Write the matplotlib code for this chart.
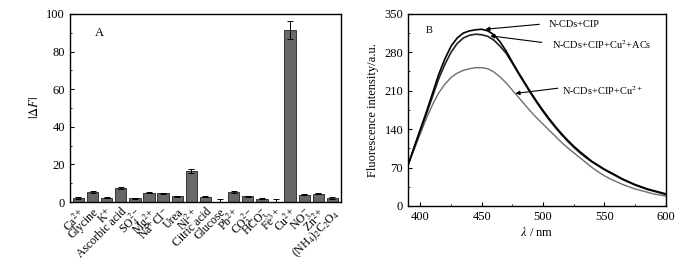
import numpy as np
import matplotlib
matplotlib.use("Agg")
import matplotlib.pyplot as plt
from matplotlib.ticker import MultipleLocator

plt.rcParams["font.family"] = ["Liberation Serif", "DejaVu Serif"]
plt.rcParams["mathtext.fontset"] = "stix"

# ---- panel A data
ions = ["Ca$^{2+}$", "Glycine", "K$^{+}$", "Ascorbic acid", "SO$_4^{2-}$",
        "Mg$^{2+}$", "Na$^{+}$Cl$^{-}$", "Urea", "Ni$^{2+}$", "Citric acid",
        "Glucose", "Pb$^{2+}$", "CO$_3^{2-}$", "HCO$_3^{-}$", "Fe$^{3+}$",
        "Cu$^{2+}$", "NO$_3^{-}$", "Zn$^{2+}$", "(NH$_4$)$_2$C$_2$O$_4$"]
delta_f = [2.1, 5.2, 2.3, 7.4, 2.0, 5.0, 4.6, 3.0, 16.4, 2.7,
           0.0, 5.2, 3.0, 1.8, 0.0, 91.5, 3.9, 4.4, 2.1]
delta_err = [0.3, 0.4, 0.3, 0.4, 0.3, 0.4, 0.3, 0.3, 0.9, 0.3,
             1.8, 0.4, 0.3, 0.3, 1.8, 4.6, 0.3, 0.3, 0.3]

# ---- panel B data (read every 5 nm)
wl = [390, 395, 400, 405, 410, 415, 420, 425, 430, 435, 440, 445, 450, 455,
      460, 465, 470, 475, 480, 485, 490, 495, 500, 505, 510, 515, 520, 525,
      530, 535, 540, 545, 550, 555, 560, 565, 570, 575, 580, 585, 590, 595, 600]
cds_cip = [75, 108, 140, 172, 206, 240, 268, 291, 306, 315, 319, 321, 322, 319,
           312, 299, 282, 262, 243, 225, 207, 190, 174, 159, 145, 132, 120, 109,
           99, 90, 81, 74, 67, 61, 55, 49, 44, 39, 35, 31, 28, 25, 22]
cds_cip_cu_acs = [75, 106, 137, 168, 200, 232, 258, 280, 296, 306, 311, 313, 312, 309,
                  302, 291, 278, 260, 241, 223, 205, 188, 172, 157, 143, 130, 118, 107,
                  97, 88, 80, 73, 66, 60, 54, 48, 43, 38, 34, 30, 27, 24, 21]
cds_cip_cu = [75, 103, 132, 160, 185, 206, 222, 234, 242, 247, 250, 252, 252, 250,
              244, 235, 224, 211, 198, 185, 172, 160, 149, 138, 127, 116, 106, 97,
              88, 79, 70, 62, 55, 49, 44, 39, 35, 31, 28, 25, 22, 20, 18]

fig = plt.figure(figsize=(7.0, 2.62), dpi=100)

# %% panel A
ax1 = fig.add_axes([0.100, 0.229, 0.387, 0.718])
x = np.arange(len(ions))
ax1.bar(x, delta_f, width=0.8, color="#686868", edgecolor="#222222", linewidth=0.6)
ax1.errorbar(x, delta_f, yerr=delta_err, fmt="none", ecolor="black",
             elinewidth=0.7, capsize=2, capthick=0.7)
ax1.set_xlim(-0.6, len(ions) - 0.4)
ax1.set_ylim(0, 100)
ax1.yaxis.set_major_locator(MultipleLocator(20))
ax1.yaxis.set_minor_locator(MultipleLocator(10))
ax1.set_xticks(x)
ax1.set_xticklabels(ions, rotation=45, ha="right", rotation_mode="anchor", fontsize=8.5)
ax1.tick_params(axis="x", length=0, pad=3)
ax1.tick_params(axis="y", which="both", direction="in", labelsize=9)
ax1.tick_params(axis="y", which="major", length=3)
ax1.tick_params(axis="y", which="minor", length=1.5)
ax1.set_ylabel(r"$|\Delta F|$", fontsize=9, labelpad=4)
ax1.text(0.09, 0.88, "A", transform=ax1.transAxes, fontsize=9)
for s in ax1.spines.values():
    s.set_linewidth(1.0)

# %% panel B
ax2 = fig.add_axes([0.583, 0.214, 0.368, 0.733])
ax2.plot(wl, cds_cip_cu, color="#6e6e6e", lw=1.0)
ax2.plot(wl, cds_cip_cu_acs, color="#222222", lw=1.2)
ax2.plot(wl, cds_cip, color="black", lw=1.2)
ax2.set_xlim(390, 600)
ax2.set_ylim(0, 350)
ax2.xaxis.set_major_locator(MultipleLocator(50))
ax2.xaxis.set_minor_locator(MultipleLocator(25))
ax2.yaxis.set_major_locator(MultipleLocator(70))
ax2.yaxis.set_minor_locator(MultipleLocator(35))
ax2.tick_params(which="both", direction="in", labelsize=9)
ax2.tick_params(which="major", length=3)
ax2.tick_params(which="minor", length=1.5)
ax2.set_xlabel(r"$\lambda$ / nm", fontsize=9, labelpad=2)
ax2.set_ylabel("Fluorescence intensity/a.u.", fontsize=9, labelpad=4)
ax2.text(404, 316, "B", fontsize=7.5)
for s in ax2.spines.values():
    s.set_linewidth(1.0)

arrow = dict(arrowstyle="-|>", color="black", lw=0.8, mutation_scale=6,
             shrinkA=0, shrinkB=0)
ax2.annotate("", xy=(453, 322), xytext=(497, 331), arrowprops=arrow)
ax2.text(505, 331, "N-CDs+CIP", fontsize=7.5, va="center")
ax2.annotate("", xy=(457, 310), xytext=(499, 298), arrowprops=arrow)
ax2.text(507.5, 295, "N-CDs+CIP+Cu$^{2}$+ACs", fontsize=7.5, va="center")
ax2.annotate("", xy=(477.5, 205), xytext=(512, 214.5), arrowprops=arrow)
ax2.text(515.5, 211, "N-CDs+CIP+Cu$^{2+}$", fontsize=7.5, va="center")

fig.savefig("out.png", dpi=100)
